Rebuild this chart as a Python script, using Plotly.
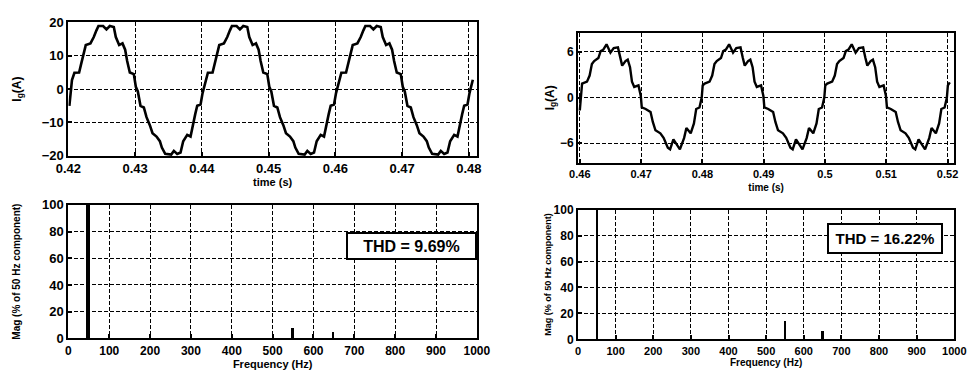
import plotly.graph_objects as go

# ---------------- data ----------------
# Top-left: grid current Ig (A) vs time (s)
t_left = [0.42014, 0.42039, 0.42053, 0.4209, 0.4216, 0.4219, 0.4222, 0.4226, 0.4233, 0.4238, 0.4242, 0.4245,
          0.4252, 0.4257, 0.4262, 0.4268, 0.4271, 0.4276, 0.4281, 0.4285, 0.4288, 0.4292, 0.4298, 0.4301,
          0.4304, 0.4308, 0.4313, 0.4317, 0.4322, 0.4326, 0.4332, 0.4337, 0.4340, 0.4345, 0.4354, 0.4358,
          0.4363, 0.4368, 0.4372, 0.4378, 0.4383, 0.4386, 0.4390, 0.4393, 0.4398, 0.4401,
          0.4404, 0.4409, 0.4416, 0.4419, 0.4422, 0.4426, 0.4433, 0.4438, 0.4442, 0.4445, 0.4452, 0.4457,
          0.4462, 0.4468, 0.4471, 0.4476, 0.4481, 0.4485, 0.4488, 0.4492, 0.4498, 0.4501, 0.4504, 0.4508,
          0.4513, 0.4517, 0.4522, 0.4526, 0.4532, 0.4537, 0.4540, 0.4545, 0.4554, 0.4558, 0.4563, 0.4568,
          0.4572, 0.4578, 0.4583, 0.4586, 0.4590, 0.4593, 0.4598, 0.4601,
          0.4604, 0.4609, 0.4616, 0.4619, 0.4622, 0.4626, 0.4633, 0.4638, 0.4642, 0.4645, 0.4652, 0.4657,
          0.4662, 0.4668, 0.4671, 0.4676, 0.4681, 0.4685, 0.4688, 0.4692, 0.4698, 0.4701, 0.4704, 0.4708,
          0.4713, 0.4717, 0.4722, 0.4726, 0.4732, 0.4737, 0.4740, 0.4745, 0.4754, 0.4758, 0.4763, 0.4768,
          0.4772, 0.4778, 0.4783, 0.4786, 0.4790, 0.4793, 0.4798, 0.4801, 0.4804, 0.4806]
i_left = [-5.0, -0.7, 2.7, 4.9, 5.0, 7.5, 10.0, 13.2, 13.7, 15.6, 17.6, 18.9,
          18.9, 17.9, 18.9, 18.6, 15.6, 13.2, 13.7, 11.8, 8.4, 5.0, 4.5, 0.7,
          -0.7, -5.0, -5.5, -8.4, -10.8, -13.2, -14.2, -15.6, -17.5, -19.4, -19.6, -18.5,
          -19.4, -19.0, -15.6, -13.7, -14.2, -10.8, -7.5, -5.0, -4.6, -1.2,
          1.2, 4.9, 5.0, 7.5, 10.0, 13.2, 13.7, 15.6, 17.6, 18.9, 18.9, 17.9,
          18.9, 18.6, 15.6, 13.2, 13.7, 11.8, 8.4, 5.0, 4.5, 0.7, -0.7, -5.0,
          -5.5, -8.4, -10.8, -13.2, -14.2, -15.6, -17.5, -19.4, -19.6, -18.5, -19.4, -19.0,
          -15.6, -13.7, -14.2, -10.8, -7.5, -5.0, -4.6, -1.2,
          1.2, 4.9, 5.0, 7.5, 10.0, 13.2, 13.7, 15.6, 17.6, 18.9, 18.9, 17.9,
          18.9, 18.6, 15.6, 13.2, 13.7, 11.8, 8.4, 5.0, 4.5, 0.7, -0.7, -5.0,
          -5.5, -8.4, -10.8, -13.2, -14.2, -15.6, -17.5, -19.4, -19.6, -18.5, -19.4, -19.0,
          -15.6, -13.7, -14.2, -10.8, -7.5, -5.0, -4.6, -1.2, 1.2, 2.8]

# Top-right: grid current Ig (A) vs time (s)
t_right = [0.4600, 0.46027, 0.46037, 0.46117, 0.4616, 0.46197, 0.46234, 0.46303, 0.4634, 0.46383, 0.46436,
           0.465, 0.46553, 0.46622, 0.4666, 0.46691, 0.46745, 0.46782, 0.46819, 0.46851, 0.46888, 0.46957,
           0.46995, 0.47011, 0.47074, 0.47154, 0.47191, 0.47234, 0.47314, 0.47367, 0.47436, 0.47473, 0.47527,
           0.4758, 0.47633, 0.47702, 0.47739, 0.47809, 0.47862, 0.47899, 0.47952, 0.47989,
           0.48005, 0.48037, 0.48117, 0.4816, 0.48197, 0.48234, 0.48303, 0.4834, 0.48383, 0.48436,
           0.485, 0.48553, 0.48622, 0.4866, 0.48691, 0.48745, 0.48782, 0.48819, 0.48851, 0.48888, 0.48957,
           0.48995, 0.49011, 0.49074, 0.49154, 0.49191, 0.49234, 0.49314, 0.49367, 0.49436, 0.49473, 0.49527,
           0.4958, 0.49633, 0.49702, 0.49739, 0.49809, 0.49862, 0.49899, 0.49952, 0.49989,
           0.50005, 0.50037, 0.50117, 0.5016, 0.50197, 0.50234, 0.50303, 0.5034, 0.50383, 0.50436,
           0.505, 0.50553, 0.50622, 0.5066, 0.50691, 0.50745, 0.50782, 0.50819, 0.50851, 0.50888, 0.50957,
           0.50995, 0.51011, 0.51074, 0.51154, 0.51191, 0.51234, 0.51314, 0.51367, 0.51436, 0.51473, 0.51527,
           0.5158, 0.51633, 0.51702, 0.51739, 0.51809, 0.51862, 0.51899, 0.51952, 0.51989,
           0.52005, 0.52037]
i_right = [-1.7, 1.6, 1.85, 2.1, 2.9, 4.4, 4.8, 5.2, 6.1, 6.3, 7.0,
           5.9, 6.5, 6.6, 5.2, 4.2, 4.8, 5.0, 4.0, 2.1, 1.4, 1.6,
           0.2, -1.3, -1.5, -1.9, -3.2, -4.3, -4.7, -5.3, -6.6, -6.8, -5.5,
           -6.1, -6.8, -5.3, -4.0, -4.7, -3.4, -1.5, -1.3, 0.0,
           1.6, 1.85, 2.1, 2.9, 4.4, 4.8, 5.2, 6.1, 6.3, 7.0,
           5.9, 6.5, 6.6, 5.2, 4.2, 4.8, 5.0, 4.0, 2.1, 1.4, 1.6,
           0.2, -1.3, -1.5, -1.9, -3.2, -4.3, -4.7, -5.3, -6.6, -6.8, -5.5,
           -6.1, -6.8, -5.3, -4.0, -4.7, -3.4, -1.5, -1.3, 0.0,
           1.6, 1.85, 2.1, 2.9, 4.4, 4.8, 5.2, 6.1, 6.3, 7.0,
           5.9, 6.5, 6.6, 5.2, 4.2, 4.8, 5.0, 4.0, 2.1, 1.4, 1.6,
           0.2, -1.3, -1.5, -1.9, -3.2, -4.3, -4.7, -5.3, -6.6, -6.8, -5.5,
           -6.1, -6.8, -5.3, -4.0, -4.7, -3.4, -1.5, -1.3, 0.0,
           1.6, 2.0]

# Bottom: harmonic spectra (% of 50 Hz component)
freq_left = [50, 550, 650]
mag_left = [100, 8.2, 5.0]
freq_right = [50, 550, 650]
mag_right = [100, 14.5, 6.5]

thd_left = "THD = 9.69%"
thd_right = "THD = 16.22%"

time_ticks_left = [0.42, 0.43, 0.44, 0.45, 0.46, 0.47, 0.48]
time_labels_left = ["0.42", "0.43", "0.44", "0.45", "0.46", "0.47", "0.48"]
time_ticks_right = [0.46, 0.47, 0.48, 0.49, 0.50, 0.51, 0.52]
time_labels_right = ["0.46", "0.47", "0.48", "0.49", "0.5", "0.51", "0.52"]
freq_ticks = [0, 100, 200, 300, 400, 500, 600, 700, 800, 900, 1000]

# ---------------- figure ----------------
FONT = "Liberation Sans"
W, H = 979, 380

fig = go.Figure()
fig.add_trace(go.Scatter(x=t_left, y=i_left, mode="lines", line=dict(color="black", width=2.6),
                         xaxis="x", yaxis="y", showlegend=False))
fig.add_trace(go.Bar(x=freq_left, y=mag_left, width=[9.5, 6, 5], marker=dict(color="black", line=dict(width=0)),
                     xaxis="x2", yaxis="y2", showlegend=False))
fig.add_trace(go.Scatter(x=t_right, y=i_right, mode="lines", line=dict(color="black", width=2.4),
                         xaxis="x3", yaxis="y3", showlegend=False))
fig.add_trace(go.Bar(x=freq_right, y=mag_right, width=[5.5, 5, 5], marker=dict(color="black", line=dict(width=0)),
                     xaxis="x4", yaxis="y4", showlegend=False))


def px_x(a, b):
    return [a / W, b / W]


def px_y(top, bottom):
    return [1 - bottom / H, 1 - top / H]


def ax(domain, rng, anchor, tickvals=None, ticktext=None, size=12, title=None, tsize=11, standoff=2):
    d = dict(domain=domain, range=rng, anchor=anchor, showline=True, mirror=True, linecolor="black",
             linewidth=2, showgrid=True, gridcolor="black", gridwidth=1.4, griddash="4px,2px",
             zeroline=False, ticks="inside", ticklen=4, tickcolor="black", tickwidth=1.5,
             tickfont=dict(family=FONT, size=size, color="black", weight="bold"))
    if tickvals is not None:
        d["tickvals"] = tickvals
    if ticktext is not None:
        d["ticktext"] = ticktext
    if title is not None:
        d["title"] = dict(text=title, font=dict(family=FONT, size=tsize, color="black", weight="bold"),
                          standoff=standoff)
    return d


fig.update_layout(
    width=W, height=H, margin=dict(l=0, r=0, t=0, b=0),
    paper_bgcolor="white", plot_bgcolor="white", bargap=0,
    xaxis=ax(px_x(57, 477), [0.42, 0.4812], "y", time_ticks_left, time_labels_left, 13, "time (s)", 11, 3),
    yaxis=ax(px_y(16, 155), [-20, 20], "x", [-20, -10, 0, 10, 20], None, 13,
             "I<sub>g</sub>(A)", 12, 18),
    xaxis2=ax(px_x(57, 477), [0, 1000], "y2", freq_ticks, None, 12, "Frequency (Hz)", 11, 3),
    yaxis2=ax(px_y(206, 345), [0, 100], "x2", [0, 20, 40, 60, 80, 100], None, 13,
              "Mag (% of 50 Hz component)", 10, 20),
    xaxis3=ax(px_x(581, 968), [0.4597, 0.5211], "y3", time_ticks_right, time_labels_right, 11, "time (s)", 10, 5),
    yaxis3=ax(px_y(27, 162), [-8.55, 8.5], "x3", [-6, 0, 6], None, 12,
              "I<sub>g</sub>(A)", 12, 3),
    xaxis4=ax(px_x(581, 968), [0, 1000], "y4", freq_ticks, None, 11, "Frequency (Hz)", 10, 3),
    yaxis4=ax(px_y(211, 346), [0, 100], "x4", [0, 20, 40, 60, 80, 100], None, 12,
              "Mag (% of 50 Hz component)", 9, 0),
    annotations=[
        dict(x=839, y=69.4, xref="x2", yref="y2", text=thd_left, showarrow=False,
             font=dict(family=FONT, size=16, color="black", weight="bold"),
             bgcolor="white", bordercolor="black", borderwidth=2, borderpad=0, width=127, height=24),
        dict(x=816.5, y=77.4, xref="x4", yref="y4", text=thd_right, showarrow=False,
             font=dict(family=FONT, size=15, color="black", weight="bold"),
             bgcolor="white", bordercolor="black", borderwidth=2, borderpad=0, width=112, height=27),
    ],
)

fig.write_html("out.html")
